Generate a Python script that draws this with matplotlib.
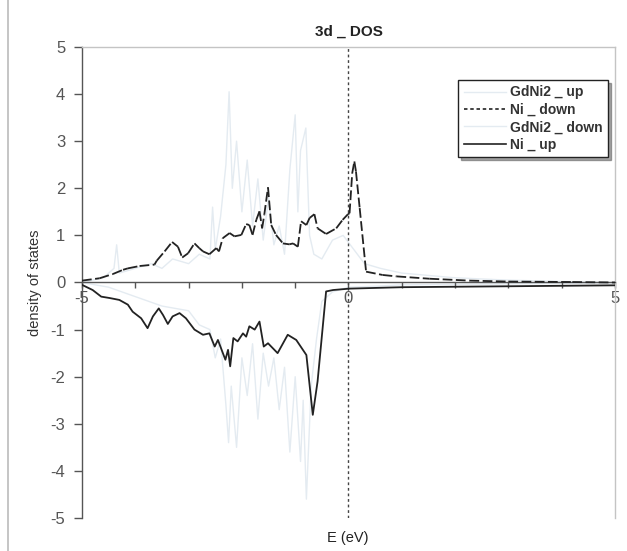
import matplotlib
matplotlib.use("Agg")
import matplotlib.pyplot as plt
import numpy as np
from matplotlib.collections import LineCollection
from matplotlib.lines import Line2D

plt.rcParams['font.family'] = ['Liberation Sans', 'DejaVu Sans']
plt.rcParams['lines.scale_dashes'] = False

# ---- data ----
ni_down_x = [-5.0, -4.67, -4.42, -4.23, -4.14, -3.92, -3.64, -3.6, -3.45, -3.31, -3.2, -3.12, -3.01,
             -2.89, -2.8, -2.73, -2.61, -2.48, -2.43, -2.36, -2.23, -2.14, -2.01, -1.92, -1.86, -1.8,
             -1.73, -1.67, -1.62, -1.58, -1.51, -1.45, -1.36, -1.23, -1.11, -1.04, -0.95, -0.89, -0.79,
             -0.73, -0.64, -0.58, -0.42, -0.23, -0.11, -0.01, 0.02, 0.07, 0.11, 0.14, 0.21, 0.33, 0.64,
             0.9, 1.52, 2.27, 3.0, 4.2, 5.0]
ni_down_y = [0.04, 0.09, 0.18, 0.27, 0.30, 0.35, 0.38, 0.46, 0.66, 0.86, 0.76, 0.53, 0.62,
             0.83, 0.73, 0.66, 0.60, 0.73, 0.66, 0.94, 1.05, 0.98, 1.01, 1.24, 1.22, 1.01,
             1.33, 1.51, 1.15, 1.44, 2.02, 1.22, 1.01, 0.83, 0.81, 0.83, 0.76, 1.30, 1.22,
             1.37, 1.45, 1.15, 1.03, 1.15, 1.33, 1.45, 1.47, 2.32, 2.57, 2.36, 1.58, 0.23, 0.16,
             0.13, 0.08, 0.04, 0.02, 0.01, 0.0]

ni_up_x = [-5.0, -4.8, -4.64, -4.48, -4.3, -4.14, -4.05, -3.89, -3.77, -3.67, -3.56, -3.48, -3.39,
           -3.3, -3.17, -3.05, -2.89, -2.73, -2.61, -2.51, -2.45, -2.31, -2.26, -2.22, -2.16, -2.08,
           -1.98, -1.92, -1.86, -1.76, -1.67, -1.59, -1.51, -1.33, -1.14, -0.98, -0.79, -0.67, -0.58,
           -0.42, -0.29, 0.02, 1.0, 2.0, 3.0, 4.0, 5.0]
ni_up_y = [-0.05, -0.16, -0.30, -0.33, -0.37, -0.47, -0.62, -0.76, -0.97, -0.72, -0.55, -0.69, -0.88,
           -0.72, -0.65, -0.76, -1.00, -1.11, -1.08, -1.36, -1.22, -1.64, -1.43, -1.78, -1.18, -1.25,
           -1.08, -1.15, -0.93, -1.00, -0.83, -1.36, -1.29, -1.50, -1.11, -1.22, -1.54, -2.81, -2.10,
           -0.19, -0.16, -0.13, -0.10, -0.09, -0.08, -0.07, -0.06]

gd_up_x = [-5.0, -4.6, -4.4, -4.35, -4.3, -4.0, -3.7, -3.5, -3.3, -3.0, -2.8, -2.6, -2.55, -2.5,
           -2.4, -2.3, -2.24, -2.18, -2.1, -2.0, -1.9, -1.8, -1.7, -1.6, -1.5, -1.4, -1.3, -1.2,
           -1.1, -1.0, -0.95, -0.9, -0.8, -0.73, -0.65, -0.5, -0.3, -0.1, 0.1, 0.3, 0.6, 1.0, 1.5,
           2.0, 3.0, 4.0, 5.0]
gd_up_y = [0.0, 0.1, 0.3, 0.8, 0.2, 0.3, 0.4, 0.3, 0.5, 0.4, 0.6, 0.5, 1.6, 0.7,
           1.4, 2.5, 4.05, 2.0, 3.0, 1.5, 2.6, 1.2, 2.2, 0.9, 1.8, 0.8, 1.2, 0.6,
           2.4, 3.56, 1.5, 2.8, 3.28, 1.0, 0.6, 0.5, 0.9, 1.0, 0.7, 0.4, 0.3, 0.2, 0.15,
           0.1, 0.05, 0.02, 0.0]

gd_down_x = [-5.0, -4.5, -4.0, -3.5, -3.0, -2.8, -2.6, -2.5, -2.4, -2.3, -2.25, -2.2, -2.1, -2.0,
             -1.9, -1.8, -1.7, -1.6, -1.5, -1.4, -1.3, -1.2, -1.1, -1.0, -0.9, -0.85, -0.79, -0.7,
             -0.6, -0.5, -0.3, 0.0, 0.5, 1.0, 2.0, 3.0, 4.0, 5.0]
gd_down_y = [0.0, -0.1, -0.3, -0.5, -0.6, -0.9, -1.0, -1.6, -1.2, -2.6, -3.4, -2.2, -3.5, -1.6,
             -2.4, -1.3, -2.9, -1.5, -2.2, -1.6, -2.7, -1.8, -3.6, -2.0, -3.8, -2.5, -4.6, -2.2,
             -1.2, -0.4, -0.2, -0.1, -0.08, -0.05, -0.04, -0.03, -0.02, -0.01]

series_names = ['GdNi2 _ up', 'Ni _ down', 'GdNi2 _ down', 'Ni _ up']
x_ticklabels = {-5: '-5', 0: '0', 5: '5'}

# ---- figure ----
fig = plt.figure(figsize=(6.27, 5.51), dpi=100)
ax = fig.add_axes([0.1308, 0.0599, 0.850, 0.8548])

faint = '#e4ebf1'
ax.plot(gd_up_x, gd_up_y, color=faint, lw=1.0, zorder=1)
ax.plot(gd_down_x, gd_down_y, color=faint, lw=1.0, zorder=1)

# Ni_down: dashed per segment (pattern restarts on every segment, like the original)
pts = np.column_stack([ni_down_x, ni_down_y])
segs = np.stack([pts[:-1], pts[1:]], axis=1)
lc = LineCollection(segs, colors='#222222', linewidths=1.3, linestyles=[(0, (7, 2.5))], zorder=3)
ax.add_collection(lc)

ax.plot(ni_up_x, ni_up_y, color='#222222', lw=1.3, zorder=3)

# Fermi level
ax.axvline(0, color='#444444', lw=1.0, ls=(0, (2, 2)), zorder=2)

ax.set_xlim(-5, 5)
ax.set_ylim(-5, 5)

# spines
ax.spines['left'].set_color('#555555')
ax.spines['left'].set_linewidth(1.0)
ax.spines['bottom'].set_position(('data', 0))
ax.spines['bottom'].set_color('#555555')
ax.spines['bottom'].set_linewidth(1.0)
for s in ['top', 'right']:
    ax.spines[s].set_color('#c4c4c4')
    ax.spines[s].set_linewidth(1.0)

ax.set_yticks(range(-5, 6))
ax.set_yticklabels([str(v) for v in range(-5, 6)])
ax.set_xticks(range(-5, 6))
ax.set_xticklabels([x_ticklabels.get(v, '') for v in range(-5, 6)])
ax.tick_params(axis='y', direction='out', length=6, width=1, colors='#555555',
               labelcolor='#555555', labelsize=12, pad=6)
ax.tick_params(axis='x', direction='out', length=4, width=1, colors='#555555',
               labelcolor='#555555', labelsize=12, pad=2)

ax.set_title('3d _ DOS', fontsize=11, fontweight='bold', color='#222222', pad=8)
ax.set_ylabel('density of states', fontsize=10.5, color='#333333', labelpad=6)
fig.text(0.555, 0.01, 'E (eV)', ha='center', va='bottom', fontsize=10.5, color='#222222')

handles = [Line2D([], [], color=faint, lw=1.0),
           Line2D([], [], color='#222222', lw=1.2, ls=(0, (2.5, 2))),
           Line2D([], [], color=faint, lw=1.0),
           Line2D([], [], color='#222222', lw=1.2)]
leg = ax.legend(handles, series_names, loc='upper left', bbox_to_anchor=(0.693, 0.945),
                frameon=True, fancybox=False, shadow=True, handlelength=3.0, handletextpad=0.3,
                labelspacing=0.25, borderpad=0.4,
                prop={'family': ['Liberation Sans Narrow', 'Liberation Sans'], 'weight': 'bold', 'size': 10})
leg.get_frame().set_edgecolor('#222222')
leg.get_frame().set_linewidth(1.0)
for t in leg.get_texts():
    t.set_color('#333333')

# scan edge line on the left
fig.add_artist(Line2D([0.013, 0.013], [0, 1], transform=fig.transFigure, color='#bbbbbb', lw=1.2))

fig.savefig('out.png', dpi=100)
